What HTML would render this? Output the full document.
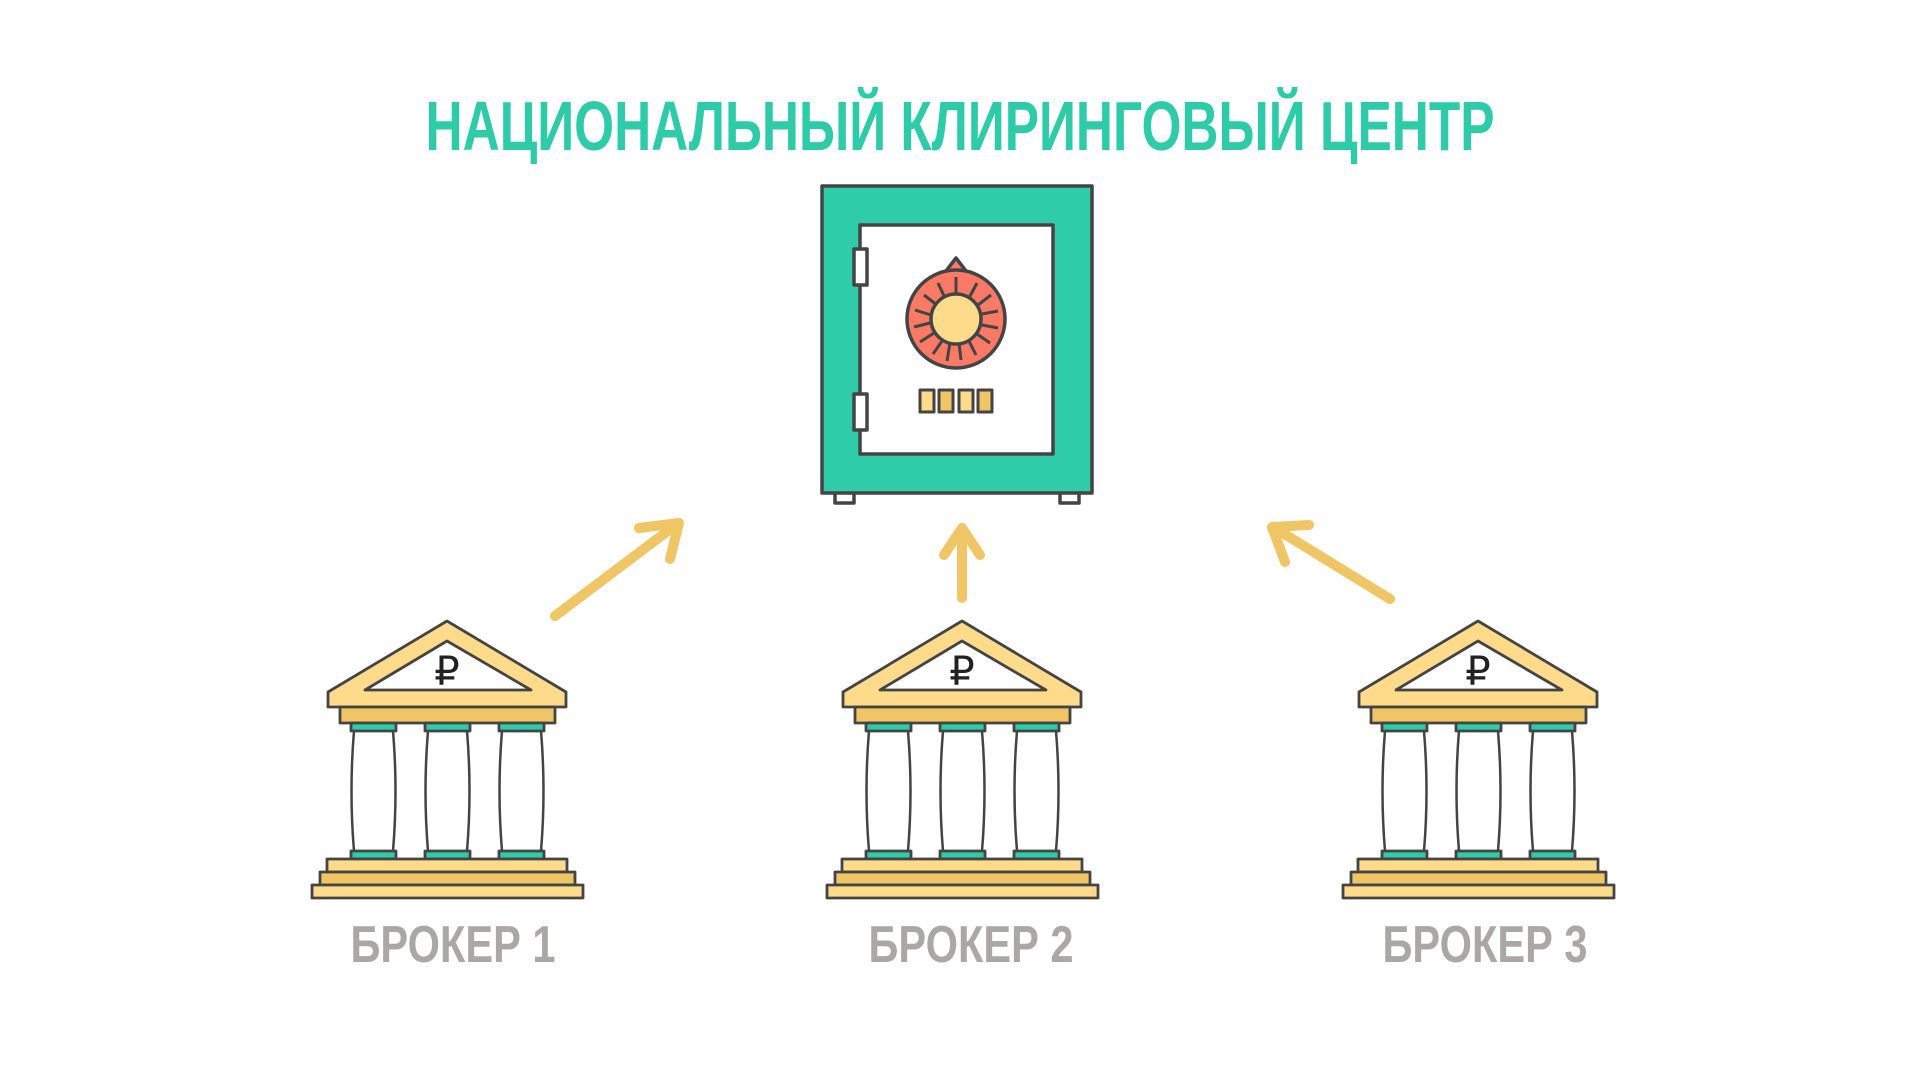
<!DOCTYPE html>
<html><head><meta charset="utf-8"><style>html,body{margin:0;padding:0;background:#fff}svg{display:block}</style></head><body>
<svg width="1920" height="1080" viewBox="0 0 1920 1080" xmlns="http://www.w3.org/2000/svg">
<defs>
<g id="bank" stroke="#444" stroke-width="2.8" stroke-linejoin="round">
  <path d="M-119 71 L0 0 L119 71 L119 86 L-119 86 Z" fill="#fddb8a"/>
  <path d="M-82 69 L0 20 L84 69 Z" fill="#fff"/>
  <rect x="-107" y="86" width="215" height="16" fill="#f0c566"/>
  <rect x="-96" y="102" width="45" height="8" fill="#2ecca9"/>
  <rect x="-22" y="102" width="45" height="8" fill="#2ecca9"/>
  <rect x="52" y="102" width="45" height="8" fill="#2ecca9"/>
  <g fill="none" stroke-width="2.5">
    <path d="M-93 110 Q-98 170 -93 230 M-54 110 Q-49 170 -54 230"/>
    <path d="M-19 110 Q-24 170 -19 230 M20 110 Q25 170 20 230"/>
    <path d="M55 110 Q50 170 55 230 M94 110 Q99 170 94 230"/>
  </g>
  <rect x="-96" y="230" width="45" height="8" fill="#2ecca9"/>
  <rect x="-22" y="230" width="45" height="8" fill="#2ecca9"/>
  <rect x="52" y="230" width="45" height="8" fill="#2ecca9"/>
  <rect x="-120" y="238" width="240" height="13" fill="#fddb8a"/>
  <rect x="-127" y="251" width="255" height="13" fill="#f0c566"/>
  <rect x="-135" y="264" width="271" height="13" fill="#fddb8a"/>
  <text x="0" y="64" font-family="DejaVu Sans, Liberation Sans, sans-serif" font-weight="normal" font-size="40" text-anchor="middle" fill="#222" stroke="none">₽</text>
</g>
</defs>

<text x="960" y="150" font-family="Liberation Sans Narrow, Liberation Sans, sans-serif" font-weight="bold" font-size="70" fill="#2ecba8" text-anchor="middle" textLength="1069" lengthAdjust="spacingAndGlyphs">НАЦИОНАЛЬНЫЙ КЛИРИНГОВЫЙ ЦЕНТР</text>

<g stroke="#444" stroke-width="3.5" stroke-linejoin="round">
  <rect x="835" y="492" width="19" height="11" fill="#fff"/>
  <rect x="1060" y="492" width="19" height="11" fill="#fff"/>
  <rect x="822" y="186" width="270" height="307" fill="#2ecca9"/>
  <rect x="860" y="225" width="193" height="229" fill="#fff"/>
  <rect x="854" y="249" width="13" height="36" fill="#fff"/>
  <rect x="854" y="394" width="13" height="36" fill="#fff"/>
  <path d="M946 271 L956 258 L966 271 Z" fill="#fb7a66"/>
  <circle cx="956" cy="319" r="49" fill="#fb7a66"/>
  <g stroke-width="3">
  <path d="M956 277 V294 M977 283 L969 298 M991 295 L978 305 M998 311 L982 314 M998 328 L982 325 M990 343 L977 334 M976 355 L969 341 M961 360 L959 343 M947 361 L950 343 M933 354 L942 341 M920 342 L934 333 M914 327 L930 323 M915 310 L931 315 M924 295 L937 305 M938 283 L945 298"/>
  </g>
  <circle cx="956" cy="319" r="25" fill="#fddb8a"/>
  <g stroke-width="3">
  <rect x="920" y="390" width="14" height="22" fill="#fddb8a"/>
  <rect x="939" y="390" width="14" height="22" fill="#f0c566"/>
  <rect x="959" y="390" width="14" height="22" fill="#fddb8a"/>
  <rect x="978" y="390" width="14" height="22" fill="#f0c566"/>
  </g>
</g>

<g stroke="#f0c566" stroke-width="10" fill="none" stroke-linecap="round" stroke-linejoin="round">
  <path d="M555 616 L677 524"/>
  <path d="M639 528 L679 523 L670 559"/>
  <path d="M962 598 V528"/>
  <path d="M944 555 L962 528 L980 555"/>
  <path d="M1390 599 L1273 527"/>
  <path d="M1285 562 L1272 527 L1309 525"/>
</g>

<use href="#bank" x="447" y="621"/>
<use href="#bank" x="962" y="621"/>
<use href="#bank" x="1478" y="621"/>

<g font-family="Liberation Sans Narrow, Liberation Sans, sans-serif" font-weight="bold" font-size="52" fill="#aca7a7" text-anchor="middle">
<text x="453" y="962" textLength="205" lengthAdjust="spacingAndGlyphs">БРОКЕР 1</text>
<text x="971" y="962" textLength="205" lengthAdjust="spacingAndGlyphs">БРОКЕР 2</text>
<text x="1485" y="962" textLength="205" lengthAdjust="spacingAndGlyphs">БРОКЕР 3</text>
</g>
</svg>
</body></html>
